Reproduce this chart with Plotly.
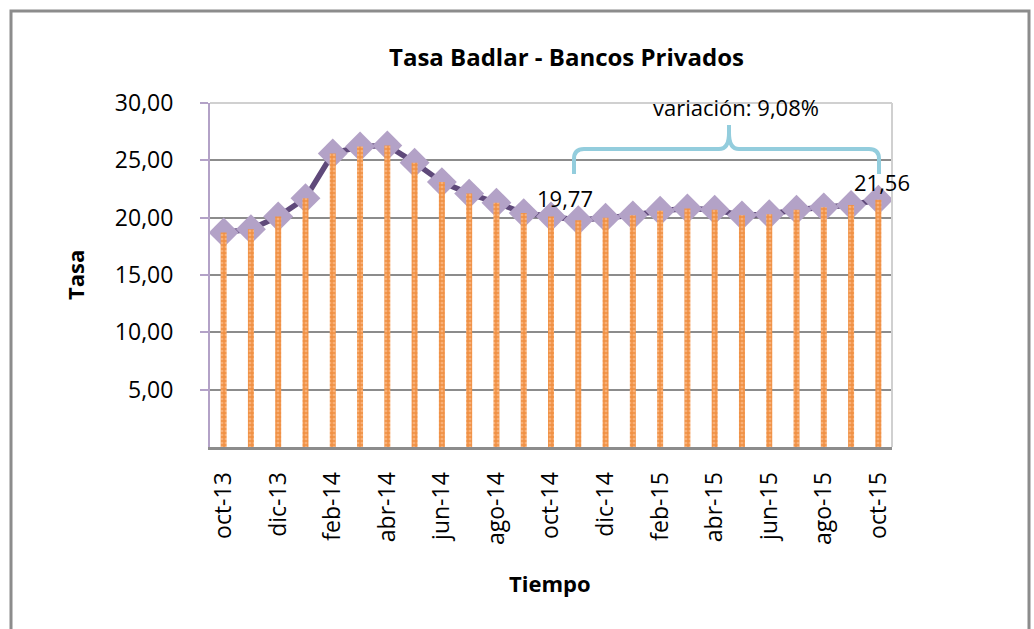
import plotly.graph_objects as go

# ---------------- data ----------------
months = ["oct-13", "nov-13", "dic-13", "ene-14", "feb-14", "mar-14", "abr-14",
          "may-14", "jun-14", "jul-14", "ago-14", "sep-14", "oct-14", "nov-14",
          "dic-14", "ene-15", "feb-15", "mar-15", "abr-15", "may-15", "jun-15",
          "jul-15", "ago-15", "sep-15", "oct-15"]
tasa = [18.70, 19.00, 20.10, 21.70, 25.60, 26.20, 26.30, 24.80, 23.10, 22.10,
        21.30, 20.40, 20.10, 19.77, 20.00, 20.20, 20.60, 20.80, 20.70, 20.20,
        20.30, 20.70, 20.90, 21.10, 21.56]
y_ticks = [5, 10, 15, 20, 25, 30]
y_tick_text = ["5,00", "10,00", "15,00", "20,00", "25,00", "30,00"]
x_tick_labels = months[::2]

title_text = "Tasa Badlar - Bancos Privados"
x_title = "Tiempo"
y_title = "Tasa"
variation_text = "variación: 9,08%"

# ---------------- layout geometry (pixels) ----------------
W, H = 1034, 629
PL, PR, PT, PB = 210, 892, 103, 447  # plot area


def px(xp):
    return (xp - PL) / (PR - PL)


def py(yp):
    return (PB - yp) / (PB - PT)


FONT = "Open Sans"

fig = go.Figure()

# line + markers
fig.add_trace(go.Scatter(
    x=months, y=tasa, mode="lines+markers",
    line=dict(color="#5f497a", width=5.5),
    marker=dict(symbol="diamond", size=23, color="#b3a2c7",
                line=dict(width=0)),
    hoverinfo="skip",
))

# orange drop bars (on overlay axes so they sit above the markers)
fig.add_trace(go.Bar(
    x=months, y=tasa, xaxis="x2", yaxis="y2", width=0.22,
    marker=dict(color="#f9b077", line=dict(width=0),
                pattern=dict(shape="+", fgcolor="#e46c0a", size=4, solidity=0.55)),
    hoverinfo="skip",
))

fig.update_layout(
    width=W, height=H,
    margin=dict(l=PL, r=W - PR, t=PT, b=H - PB, pad=0),
    paper_bgcolor="white", plot_bgcolor="white",
    showlegend=False,
    font=dict(family=FONT, color="black", size=22),
    xaxis=dict(
        type="category", categoryorder="array", categoryarray=months,
        range=[-0.5, len(months) - 0.5],
        tickmode="array", tickvals=x_tick_labels, ticktext=x_tick_labels,
        tickangle=-90, tickfont=dict(size=23, family=FONT, color="black"),
        ticks="", showgrid=False, zeroline=False,
        showline=True, linecolor="#8c8c8c", linewidth=3,
        ticklabelstandoff=13,
    ),
    yaxis=dict(
        range=[0, 30], tickmode="array", tickvals=y_ticks, ticktext=y_tick_text,
        tickfont=dict(size=23, family=FONT, color="black"),
        showgrid=True, gridcolor="#8c8c8c", gridwidth=2, zeroline=False,
        showline=True, linecolor="#b3a2c7", linewidth=2,
        ticks="outside", ticklen=8, tickwidth=2, tickcolor="#b3a2c7",
        ticklabelstandoff=22,
    ),
    xaxis2=dict(
        type="category", categoryorder="array", categoryarray=months,
        range=[-0.5, len(months) - 0.5], overlaying="x", visible=False,
    ),
    yaxis2=dict(range=[0, 30], overlaying="y", visible=False),
)

# plot area top/right border (light grey)
fig.add_shape(type="line", xref="paper", yref="paper", x0=0, x1=1, y0=1, y1=1,
              line=dict(color="#d0d0d0", width=2), layer="above")
fig.add_shape(type="line", xref="paper", yref="paper", x0=1, x1=1, y0=0, y1=1,
              line=dict(color="#d0d0d0", width=2), layer="above")

# outer chart border
fig.add_shape(type="rect", xref="paper", yref="paper",
              x0=px(11), x1=px(1029), y0=py(720), y1=py(11),
              line=dict(color="#8c8c8c", width=3), fillcolor="rgba(0,0,0,0)")

# curly bracket
bx0, bx1, bxc = 574, 879, 729
by_line, by_end, by_peak, r = 149, 174, 125, 10
path = (
    f"M {px(bx0)},{py(by_end)} "
    f"L {px(bx0)},{py(by_line + r)} "
    f"Q {px(bx0)},{py(by_line)} {px(bx0 + r)},{py(by_line)} "
    f"L {px(bxc - r)},{py(by_line)} "
    f"Q {px(bxc)},{py(by_line)} {px(bxc)},{py(by_peak + 8)} "
    f"L {px(bxc)},{py(by_peak)} "
    f"M {px(bxc)},{py(by_peak + 8)} "
    f"Q {px(bxc)},{py(by_line)} {px(bxc + r)},{py(by_line)} "
    f"L {px(bx1 - r)},{py(by_line)} "
    f"Q {px(bx1)},{py(by_line)} {px(bx1)},{py(by_line + r)} "
    f"L {px(bx1)},{py(by_end)}"
)
fig.add_shape(type="path", xref="paper", yref="paper", path=path,
              line=dict(color="#93cddd", width=4), layer="above")

# texts
fig.add_annotation(text=f"<b>{title_text}</b>", xref="paper", yref="paper",
                   x=px(566), y=py(57), showarrow=False,
                   font=dict(size=24, family=FONT, color="black"),
                   xanchor="center", yanchor="middle")
fig.add_annotation(text=f"<b>{x_title}</b>", xref="paper", yref="paper",
                   x=px(550), y=py(583), showarrow=False,
                   font=dict(size=22, family=FONT, color="black"),
                   xanchor="center", yanchor="middle")
fig.add_annotation(text=f"<b>{y_title}</b>", xref="paper", yref="paper",
                   x=px(75), y=py(275), showarrow=False, textangle=-90,
                   font=dict(size=22, family=FONT, color="black"),
                   xanchor="center", yanchor="middle")
fig.add_annotation(text=variation_text, xref="paper", yref="paper",
                   x=px(736), y=py(107), showarrow=False,
                   font=dict(size=22, family=FONT, color="black"),
                   xanchor="center", yanchor="middle")

# value labels for first and last point of the bracket
i_start = months.index("nov-14")
i_end = months.index("oct-15")
fig.add_annotation(text=f"{tasa[i_start]:.2f}".replace(".", ","),
                   x=months[i_start], y=tasa[i_start], showarrow=False,
                   xshift=-13, yshift=22,
                   font=dict(size=22, family=FONT, color="black"))
fig.add_annotation(text=f"{tasa[i_end]:.2f}".replace(".", ","),
                   x=months[i_end], y=tasa[i_end], showarrow=False,
                   xshift=4, yshift=18,
                   font=dict(size=22, family=FONT, color="black"))

fig.write_html("out.html",
               config={"displayModeBar": False},
               post_script="document.body.style.margin='0px';"
                           "document.body.style.overflow='hidden';")
